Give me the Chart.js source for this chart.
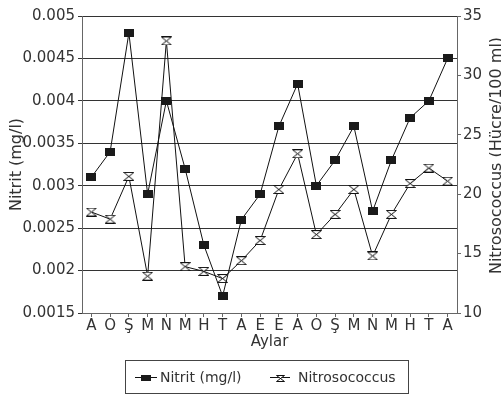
<!DOCTYPE html>
<html>
<head>
<meta charset="utf-8">
<script src="https://cdn.jsdelivr.net/npm/chart.js@4"></script>
<style>
  html, body { margin: 0; padding: 0; background: #fff; }
  #wrap { width: 501px; height: 396px; }
</style>
</head>
<body>
<div id="wrap"><canvas id="chart" width="501" height="396"></canvas></div>
<script>
// months (Turkish initials)
const months = ['A', 'O', 'Ş', 'M', 'N', 'M', 'H', 'T', 'A', 'E', 'E', 'A', 'O', 'Ş', 'M', 'N', 'M', 'H', 'T', 'A'];
// nitrite, mg/l (left axis)
const nitrit = [0.0031, 0.0034, 0.0048, 0.0029, 0.0040, 0.0032, 0.0023, 0.0017, 0.0026, 0.0029,
                0.0037, 0.0042, 0.0030, 0.0033, 0.0037, 0.0027, 0.0033, 0.0038, 0.0040, 0.0045];
// Nitrosococcus, cells/100 ml (right axis)
const nitroso = [18.5, 17.9, 21.5, 13.1, 32.9, 13.9, 13.5, 12.9, 14.4, 16.1,
                 20.4, 23.4, 16.6, 18.3, 20.4, 14.8, 18.3, 20.9, 22.2, 21.1];

const seriesNames = ['Nitrit (mg/l)', 'Nitrosococcus'];
const xTitle = 'Aylar';
const leftTitle = 'Nitrit (mg/l)';
const rightTitle = 'Nitrosococcus (Hücre/100 ml)';

Chart.defaults.font.family = '"DejaVu Sans", Verdana, sans-serif';
Chart.defaults.color = '#333';

// marker drawing helpers
function squareMarker(w, h) {
    const c = document.createElement('canvas');
    c.width = w; c.height = h;
    const ctx = c.getContext('2d');
    ctx.fillStyle = '#1a1a1a';
    ctx.fillRect(0, 0, w, h);
    return c;
}

function hourglassMarker(w, h) {
    const c = document.createElement('canvas');
    c.width = w; c.height = h;
    const ctx = c.getContext('2d');
    ctx.beginPath();
    ctx.moveTo(0.5, 0.5);
    ctx.lineTo(w - 0.5, 0.5);
    ctx.lineTo(0.5, h - 0.5);
    ctx.lineTo(w - 0.5, h - 0.5);
    ctx.closePath();
    ctx.fillStyle = '#fff';
    ctx.fill();
    ctx.strokeStyle = '#111';
    ctx.lineWidth = 1;
    ctx.stroke();
    return c;
}

const sqPoint = squareMarker(10, 8);
const hgPoint = hourglassMarker(11, 9);

// legend + right title drawn by hand
const extras = {
    id: 'extras',
    afterDraw(chart) {
        const ctx = chart.ctx;
        const area = chart.chartArea;
        ctx.save();

        // right axis title, reads bottom to top
        ctx.translate(chart.width - 4, (area.top + area.bottom) / 2 - 9);
        ctx.rotate(-Math.PI / 2);
        ctx.font = '16px "DejaVu Sans"';
        ctx.fillStyle = '#333';
        ctx.textAlign = 'center';
        ctx.textBaseline = 'middle';
        ctx.fillText(rightTitle, 0, 0);
        ctx.restore();

        // legend box
        ctx.save();
        const boxL = 125.5, boxT = 360.5, boxW = 283, boxH = 33;
        const cy = boxT + boxH / 2;
        ctx.strokeStyle = '#444';
        ctx.lineWidth = 1;
        ctx.strokeRect(boxL, boxT, boxW, boxH);

        ctx.font = '14px "DejaVu Sans"';
        ctx.fillStyle = '#333';
        ctx.textAlign = 'left';
        ctx.textBaseline = 'middle';

        const items = [
            { x0: 135, x1: 157, marker: squareMarker(10, 6), text: 158 },
            { x0: 270, x1: 290, marker: hourglassMarker(9, 7), text: 296 }
        ];
        items.forEach((it, i) => {
            ctx.strokeStyle = '#111';
            ctx.beginPath();
            ctx.moveTo(it.x0, Math.round(cy) + 0.5);
            ctx.lineTo(it.x1, Math.round(cy) + 0.5);
            ctx.stroke();
            const mx = Math.round((it.x0 + it.x1) / 2 - it.marker.width / 2);
            const my = Math.round(cy - it.marker.height / 2) + 1;
            ctx.drawImage(it.marker, mx, my);
            ctx.fillText(seriesNames[i], it.text + 2, cy + 1);
        });
        ctx.restore();
    }
};

new Chart(document.getElementById('chart'), {
    type: 'line',
    data: {
        labels: months,
        datasets: [
            {
                label: seriesNames[0],
                data: nitrit,
                yAxisID: 'y',
                borderColor: '#111',
                borderWidth: 1,
                pointStyle: sqPoint,
                tension: 0
            },
            {
                label: seriesNames[1],
                data: nitroso,
                yAxisID: 'y1',
                borderColor: '#111',
                borderWidth: 1,
                pointStyle: hgPoint,
                tension: 0
            }
        ]
    },
    options: {
        responsive: false,
        animation: false,
        layout: { padding: { top: 16, left: 0, right: 0, bottom: 37 } },
        plugins: {
            legend: { display: false },
            tooltip: { enabled: false }
        },
        scales: {
            x: {
                type: 'category',
                offset: true,
                grid: { drawOnChartArea: false, tickLength: 4, color: '#666' },
                border: { color: '#666' },
                ticks: { font: { size: 15 }, padding: 0, maxRotation: 0, autoSkip: false },
                title: { display: true, text: xTitle, font: { size: 15 }, padding: { top: 0, bottom: 8 } },
                afterFit(s) { s.height = 46; }
            },
            y: {
                position: 'left',
                min: 0.0015,
                max: 0.005,
                ticks: {
                    stepSize: 0.0005,
                    font: { size: 15 },
                    padding: 3,
                    callback: v => String(+v.toFixed(4))
                },
                grid: { color: '#333', tickLength: 4 },
                border: { color: '#666' },
                title: { display: true, text: leftTitle, font: { size: 16 }, padding: { top: 7, bottom: 0 } },
                afterFit(s) { s.width = 82; }
            },
            y1: {
                position: 'right',
                min: 10,
                max: 35,
                ticks: { stepSize: 5, font: { size: 15 }, padding: 2 },
                grid: { drawOnChartArea: false, tickLength: 4, color: '#666' },
                border: { color: '#666' },
                afterFit(s) { s.width = 44; }
            }
        }
    },
    plugins: [extras]
});
</script>
</body>
</html>
